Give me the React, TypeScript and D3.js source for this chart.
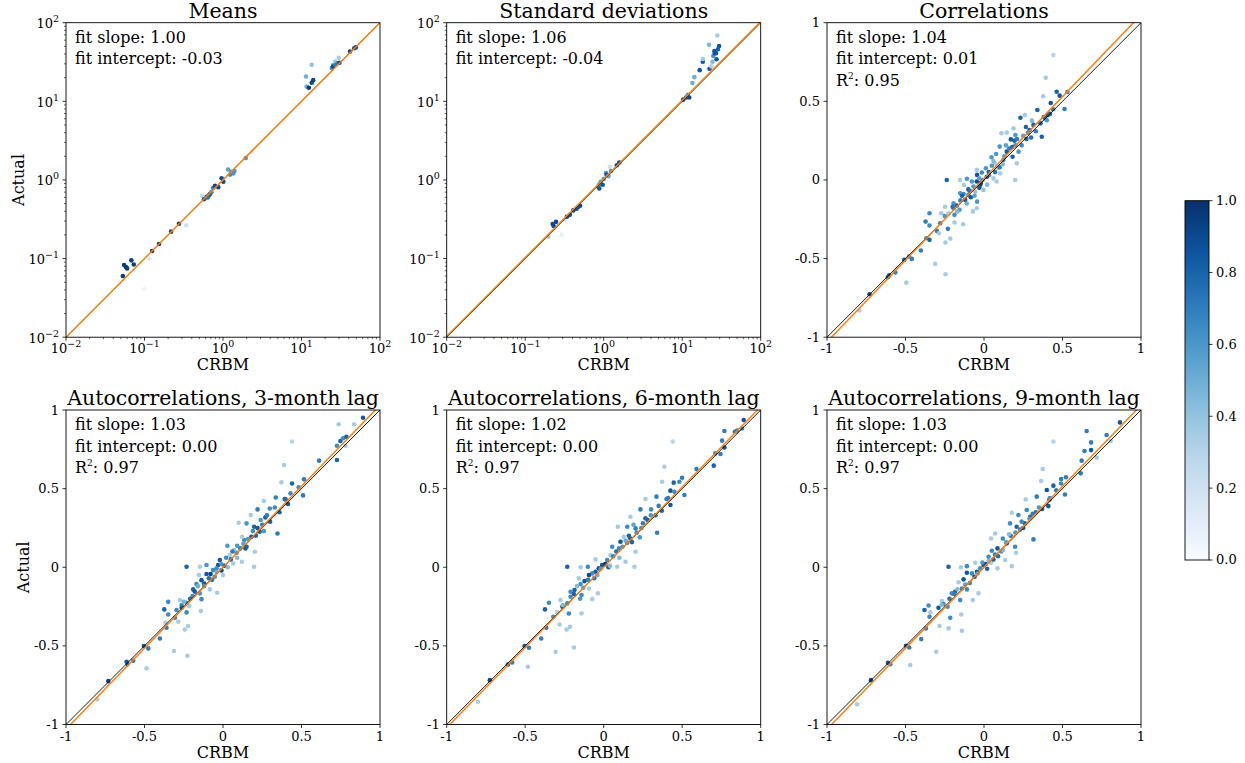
import React from 'react'
import * as d3 from 'd3'

// [CRBM, Actual, colour value]
const meansPoints: [number, number, number][] = [
  [0.053, 0.060, 0.95], [0.055, 0.083, 0.95], [0.058, 0.078, 0.95], [0.06, 0.075, 0.95],
  [0.068, 0.095, 0.95], [0.073, 0.084, 0.95], [0.115, 0.10, 0.15], [0.099, 0.041, 0.05],
  [0.125, 0.125, 0.95], [0.153, 0.153, 0.95], [0.218, 0.22, 0.95], [0.275, 0.277, 0.95],
  [0.34, 0.265, 0.2], [0.42, 0.46, 0.05], [0.54, 0.63, 0.25], [0.573, 0.567, 0.9],
  [0.62, 0.61, 0.9], [0.66, 0.64, 0.95], [0.71, 0.70, 0.65], [0.75, 0.79, 0.7],
  [0.79, 0.84, 0.9], [0.87, 0.81, 0.9], [0.96, 1.05, 0.9], [1.01, 0.95, 0.9],
  [0.68, 0.66, 0.8], [0.64, 0.6, 0.75], [1.16, 1.36, 0.55], [1.28, 1.27, 0.6],
  [1.35, 1.21, 0.6], [1.23, 1.17, 0.65], [1.4, 1.3, 0.6], [1.95, 1.9, 0.6],
  [2.31, 2.28, 0.15], [11.6, 15.4, 0.5], [11.4, 20.7, 0.5], [13.5, 29.2, 0.4],
  [12.4, 14.9, 0.95], [13.5, 17.2, 0.9], [14.1, 18.6, 0.9], [24.3, 26.5, 0.6],
  [25.2, 28.9, 0.45], [26.8, 32.1, 0.35], [28.6, 30.5, 0.65], [30.5, 31, 0.9],
  [29.8, 35.9, 0.35], [25.2, 27.7, 0.9], [27, 29, 0.7], [41.5, 43, 0.9],
  [47, 47.4, 0.9], [49.2, 48.5, 0.9],
]

const stdPoints: [number, number, number][] = [
  [0.197, 0.19, 0.35], [0.29, 0.2, 0.08], [0.224, 0.275, 0.9], [0.247, 0.293, 0.9],
  [0.23, 0.26, 0.9], [0.315, 0.31, 0.2], [0.34, 0.34, 0.9], [0.37, 0.36, 0.9],
  [0.41, 0.41, 0.9], [0.45, 0.43, 0.9], [0.50, 0.47, 0.9], [0.47, 0.45, 0.85],
  [0.85, 0.82, 0.65], [0.88, 0.88, 0.65], [0.92, 0.95, 0.6], [1.0, 1.03, 0.6],
  [1.07, 1.22, 0.6], [1.09, 1.16, 0.85], [1.2, 1.47, 0.2], [1.24, 1.3, 0.6],
  [1.47, 1.54, 0.9], [1.58, 1.67, 0.9], [0.97, 0.87, 0.85], [0.88, 0.78, 0.85],
  [1.15, 1.12, 0.55], [10.3, 10.5, 0.9], [11.2, 11.2, 0.9], [11.8, 12.1, 0.6],
  [12.3, 11.2, 0.9], [13.5, 17.1, 0.5], [14.3, 20.3, 0.5], [16.7, 24.9, 0.85],
  [18.3, 31.8, 0.85], [18.3, 34.5, 0.35], [22.3, 26, 0.85], [23.5, 28, 0.3],
  [24.3, 31.8, 0.45], [24.9, 37.7, 0.6], [26, 41, 0.85], [22, 52.5, 0.45],
  [28, 68.8, 0.35], [27.4, 34.3, 0.85], [26.9, 41, 0.85], [29.5, 50.4, 0.85],
  [25.7, 43.5, 0.85], [28.5, 46, 0.8],
]

const corrPoints: [number, number, number][] = [
  [0.442, 0.794, 0.3], [0.393, 0.65, 0.35], [0.377, 0.532, 0.35], [0.463, 0.561, 0.8],
  [0.482, 0.536, 0.85], [0.531, 0.559, 0.65], [0.513, 0.451, 0.7], [0.425, 0.489, 0.85],
  [0.34, 0.445, 0.8], [0.232, 0.396, 0.8], [0.26, 0.413, 0.35], [0.305, 0.377, 0.45],
  [0.406, 0.413, 0.85], [0.42, 0.42, 0.8], [0.389, 0.392, 0.85], [0.368, 0.275, 0.8],
  [0.111, 0.297, 0.35], [0.145, 0.301, 0.35], [0.2, 0.286, 0.6], [0.188, 0.328, 0.35],
  [0.267, 0.337, 0.8], [0.29, 0.318, 0.8], [0.315, 0.35, 0.8], [0.194, 0.25, 0.8],
  [0.171, 0.258, 0.85], [0.1, 0.212, 0.6], [0.048, 0.144, 0.6], [0.077, 0.165, 0.6],
  [0.199, 0, 0.35], [0.145, 0.18, 0.85], [0.182, 0.148, 0.8], [0.209, 0.106, 0.35],
  [0.086, 0.074, 0.35], [0.103, 0.042, 0.35], [0.081, -0.01, 0.35], [0.06, 0.01, 0.35],
  [0.033, 0.032, 0.6], [0.012, 0.074, 0.6], [-0.014, 0.047, 0.65], [-0.044, 0.032, 0.85],
  [-0.046, -0.01, 0.9], [-0.024, -0.032, 0.85], [-0.067, -0.042, 0.6], [-0.077, -0.01, 0.6],
  [-0.056, -0.074, 0.4], [-0.003, -0.064, 0.4], [-0.237, 0, 0.8], [-0.152, 0, 0.35],
  [-0.109, 0.008, 0.6], [-0.128, -0.032, 0.35], [-0.152, -0.085, 0.6], [-0.13, -0.089, 0.65],
  [-0.099, -0.095, 0.65], [-0.084, -0.11, 0.85], [-0.12, -0.127, 0.85], [-0.194, -0.148, 0.6],
  [-0.173, -0.163, 0.8], [-0.194, -0.18, 0.65], [-0.156, -0.19, 0.6], [-0.226, -0.212, 0.35],
  [-0.273, -0.212, 0.35], [-0.248, -0.17, 0.35], [-0.071, -0.2, 0.35], [-0.046, -0.18, 0.35],
  [-0.044, -0.138, 0.6], [-0.188, -0.222, 0.65], [-0.347, -0.212, 0.65], [-0.372, -0.265, 0.7],
  [-0.347, -0.29, 0.65], [-0.279, -0.275, 0.7], [-0.23, -0.311, 0.7], [-0.3, -0.324, 0.7],
  [-0.287, -0.339, 0.35], [-0.245, -0.398, 0.35], [-0.215, -0.373, 0.35], [-0.133, -0.282, 0.35],
  [-0.188, -0.271, 0.35], [-0.367, -0.371, 0.65], [-0.347, -0.381, 0.8], [-0.402, -0.449, 0.7],
  [-0.46, -0.502, 0.7], [-0.508, -0.508, 0.85], [-0.478, -0.487, 0.65], [-0.311, -0.534, 0.35],
  [-0.245, -0.6, 0.35], [-0.495, -0.653, 0.35], [-0.565, -0.589, 0.7], [-0.604, -0.606, 0.85],
  [-0.612, -0.619, 0.85], [-0.729, -0.727, 0.9], [-0.794, -0.83, 0.35], [0.07, 0.106, 0.35],
  [-0.046, 0.064, 0.35], [0.123, 0.127, 0.65], [0.018, 0.02, 0.9], [-0.02, -0.02, 0.95],
  [0.03, 0.05, 0.8], [0.16, 0.2, 0.7], [0.24, 0.22, 0.65], [0.27, 0.26, 0.8],
  [0.22, 0.18, 0.6], [-0.1, -0.06, 0.8], [-0.03, -0.05, 0.85], [0.05, 0.09, 0.6],
  [0.1, 0.08, 0.7], [-0.15, -0.13, 0.7], [0.33, 0.31, 0.7], [0.36, 0.36, 0.8],
  [0.4, 0.38, 0.6], [0.2, 0.22, 0.65], [0.18, 0.21, 0.8], [0.25, 0.28, 0.55],
  [0.13, 0.15, 0.6], [0.07, 0.05, 0.75], [-0.01, 0.0, 0.7], [-0.09, -0.07, 0.75],
  [-0.06, -0.1, 0.55], [-0.2, -0.17, 0.75], [-0.11, -0.15, 0.5], [-0.14, -0.1, 0.8],
  [0.02, -0.03, 0.45], [0.12, 0.1, 0.45], [0.28, 0.3, 0.65], [0.3, 0.27, 0.75],
  [0.38, 0.4, 0.75], [0.44, 0.45, 0.7], [-0.17, -0.2, 0.45], [-0.25, -0.23, 0.6],
  [0.21, 0.26, 0.7], [0.06, 0.12, 0.45], [-0.03, 0.01, 0.55], [0.14, 0.22, 0.55],
]

const lag3Points: [number, number, number][] = [
  [0.892, 0.951, 0.85], [0.835, 0.909, 0.35], [0.737, 0.909, 0.35], [0.748, 0.803, 0.8],
  [0.765, 0.82, 0.65], [0.786, 0.83, 0.8], [0.78, 0.773, 0.35], [0.726, 0.773, 0.65],
  [0.726, 0.682, 0.8], [0.612, 0.678, 0.7], [0.44, 0.799, 0.3], [0.389, 0.65, 0.35],
  [0.372, 0.54, 0.35], [0.44, 0.533, 0.8], [0.516, 0.559, 0.7], [0.482, 0.508, 0.65],
  [0.51, 0.457, 0.7], [0.336, 0.444, 0.7], [0.393, 0.434, 0.85], [0.414, 0.402, 0.85],
  [0.26, 0.421, 0.35], [0.22, 0.368, 0.7], [0.298, 0.374, 0.65], [0.27, 0.317, 0.8],
  [0.347, 0.215, 0.7], [0.177, 0.332, 0.35], [0.1, 0.283, 0.35], [0.15, 0.279, 0.6],
  [0.198, 0.258, 0.8], [0.234, 0.226, 0.8], [0.181, 0.194, 0.85], [0.135, 0.173, 0.65],
  [0.122, 0.194, 0.35], [0.203, 0.099, 0.35], [0.198, 0.003, 0.35], [0.143, 0.12, 0.85],
  [0.09, 0.137, 0.6], [0.028, 0.137, 0.6], [0.086, 0.092, 0.65], [0.12, 0.035, 0.35],
  [0.065, 0.024, 0.35], [0.043, 0.077, 0.35], [0.02, 0.06, 0.65], [-0.02, 0.046, 0.85],
  [-0.031, 0.014, 0.85], [-0.041, -0.007, 0.65], [-0.063, -0.018, 0.65], [-0.079, -0.043, 0.9],
  [-0.105, -0.043, 0.85], [-0.052, -0.06, 0.6], [0, -0.05, 0.35], [-0.147, 0.003, 0.35],
  [-0.105, 0.014, 0.6], [-0.232, 0.003, 0.8], [-0.154, -0.05, 0.35], [-0.137, -0.082, 0.85],
  [-0.12, -0.103, 0.85], [-0.169, -0.107, 0.65], [-0.19, -0.141, 0.8], [-0.18, -0.155, 0.85],
  [-0.147, -0.166, 0.6], [-0.084, -0.141, 0.35], [-0.037, -0.162, 0.35], [-0.137, -0.203, 0.65],
  [-0.194, -0.183, 0.65], [-0.275, -0.209, 0.35], [-0.232, -0.226, 0.65], [-0.263, -0.241, 0.65],
  [-0.263, -0.258, 0.85], [-0.215, -0.247, 0.35], [-0.349, -0.22, 0.65], [-0.374, -0.268, 0.8],
  [-0.349, -0.3, 0.65], [-0.296, -0.272, 0.65], [-0.232, -0.287, 0.65], [-0.141, -0.279, 0.35],
  [-0.306, -0.321, 0.65], [-0.285, -0.347, 0.35], [-0.366, -0.353, 0.35], [-0.222, -0.374, 0.35],
  [-0.243, -0.396, 0.35], [-0.36, -0.385, 0.7], [-0.402, -0.453, 0.7], [-0.504, -0.501, 0.85],
  [-0.476, -0.516, 0.7], [-0.313, -0.533, 0.35], [-0.226, -0.563, 0.35], [-0.487, -0.643, 0.35],
  [-0.572, -0.595, 0.7], [-0.608, -0.616, 0.85], [-0.614, -0.601, 0.85], [-0.731, -0.724, 0.9],
  [-0.801, -0.84, 0.35], [0.01, 0.01, 0.95], [-0.01, -0.02, 0.9], [0.05, 0.05, 0.8],
  [0.11, 0.12, 0.7], [0.16, 0.18, 0.6], [0.25, 0.27, 0.7], [0.3, 0.29, 0.8],
  [-0.07, -0.08, 0.75], [0.07, 0.11, 0.4], [0.21, 0.2, 0.75], [0.36, 0.35, 0.8],
  [0.19, 0.23, 0.65], [0.24, 0.3, 0.6], [0.13, 0.15, 0.55], [-0.01, 0.02, 0.6],
  [-0.09, -0.07, 0.75], [-0.12, -0.12, 0.6], [-0.21, -0.2, 0.75], [0.03, 0.0, 0.45],
  [0.09, 0.06, 0.45], [0.28, 0.33, 0.7], [0.33, 0.38, 0.65], [0.4, 0.43, 0.75],
  [-0.16, -0.12, 0.5], [0.06, 0.1, 0.7], [0.15, 0.13, 0.8], [0.22, 0.25, 0.85],
  [-0.04, -0.03, 0.5], [-0.25, -0.22, 0.45], [0.26, 0.23, 0.6], [0.43, 0.47, 0.65],
]

const lag6Points: [number, number, number][] = [
  [0.892, 0.936, 0.85], [0.835, 0.862, 0.7], [0.769, 0.866, 0.7], [0.881, 0.883, 0.65],
  [0.85, 0.87, 0.7], [0.754, 0.805, 0.7], [0.769, 0.762, 0.85], [0.744, 0.72, 0.7],
  [0.711, 0.724, 0.7], [0.701, 0.646, 0.8], [0.591, 0.625, 0.7], [0.44, 0.799, 0.3],
  [0.387, 0.639, 0.35], [0.372, 0.544, 0.35], [0.446, 0.538, 0.8], [0.499, 0.569, 0.7],
  [0.482, 0.544, 0.65], [0.514, 0.459, 0.7], [0.425, 0.487, 0.85], [0.336, 0.449, 0.7],
  [0.4, 0.434, 0.7], [0.425, 0.396, 0.85], [0.266, 0.434, 0.35], [0.302, 0.368, 0.65],
  [0.234, 0.368, 0.7], [0.34, 0.219, 0.7], [0.266, 0.311, 0.8], [0.17, 0.321, 0.35],
  [0.09, 0.258, 0.35], [0.15, 0.258, 0.65], [0.203, 0.247, 0.7], [0.203, 0.099, 0.35],
  [0.196, 0.003, 0.35], [0.128, 0.194, 0.35], [0.17, 0.183, 0.85], [0.15, 0.156, 0.7],
  [0.107, 0.162, 0.85], [0.054, 0.13, 0.65], [0.097, 0.12, 0.65], [0.043, 0.077, 0.35],
  [0.139, 0.035, 0.35], [0.086, 0.003, 0.35], [0.022, 0.046, 0.65], [-0.01, 0.014, 0.85],
  [-0.031, -0.007, 0.9], [-0.052, -0.029, 0.85], [-0.073, -0.039, 0.65], [-0.094, -0.05, 0.9],
  [-0.052, 0.05, 0.35], [-0.147, 0, 0.35], [-0.101, 0.003, 0.65], [-0.232, 0.003, 0.8],
  [-0.158, -0.071, 0.35], [-0.122, -0.088, 0.85], [-0.147, -0.107, 0.65], [-0.186, -0.145, 0.8],
  [-0.211, -0.156, 0.65], [-0.141, -0.177, 0.65], [-0.094, -0.135, 0.35], [-0.037, -0.166, 0.35],
  [-0.073, -0.203, 0.35], [-0.15, -0.2, 0.6], [-0.211, -0.188, 0.65], [-0.275, -0.209, 0.35],
  [-0.232, -0.23, 0.65], [-0.263, -0.251, 0.85], [-0.349, -0.226, 0.65], [-0.374, -0.268, 0.8],
  [-0.321, -0.315, 0.65], [-0.296, -0.287, 0.35], [-0.222, -0.294, 0.65], [-0.141, -0.294, 0.35],
  [-0.281, -0.364, 0.35], [-0.215, -0.379, 0.35], [-0.236, -0.396, 0.35], [-0.366, -0.385, 0.7],
  [-0.398, -0.453, 0.7], [-0.504, -0.501, 0.85], [-0.476, -0.512, 0.7], [-0.19, -0.51, 0.35],
  [-0.306, -0.538, 0.35], [-0.483, -0.633, 0.35], [-0.583, -0.605, 0.7], [-0.61, -0.618, 0.85],
  [-0.725, -0.718, 0.9], [-0.801, -0.855, 0.35], [0.01, 0.02, 0.95], [0.03, 0.0, 0.8],
  [0.06, 0.07, 0.7], [0.12, 0.13, 0.6], [0.24, 0.25, 0.65], [0.28, 0.3, 0.8],
  [-0.06, -0.07, 0.75], [0.18, 0.16, 0.8], [0.33, 0.33, 0.75], [0.37, 0.36, 0.8],
  [0.21, 0.22, 0.65], [0.19, 0.27, 0.55], [0.25, 0.28, 0.7], [0.14, 0.17, 0.5],
  [0.08, 0.1, 0.75], [-0.02, -0.01, 0.6], [-0.1, -0.08, 0.7], [-0.13, -0.13, 0.55],
  [-0.19, -0.17, 0.8], [0.04, 0.01, 0.45], [0.3, 0.33, 0.6], [0.41, 0.44, 0.7],
  [-0.17, -0.12, 0.45], [0.1, 0.06, 0.45], [0.16, 0.2, 0.8], [0.23, 0.19, 0.6],
  [-0.04, -0.05, 0.5], [-0.26, -0.24, 0.45], [0.35, 0.39, 0.7], [0.45, 0.48, 0.65],
]

const lag9Points: [number, number, number][] = [
  [0.866, 0.921, 0.85], [0.654, 0.866, 0.7], [0.781, 0.841, 0.7], [0.682, 0.794, 0.7],
  [0.64, 0.739, 0.7], [0.682, 0.745, 0.85], [0.718, 0.697, 0.35], [0.807, 0.803, 0.35],
  [0.622, 0.678, 0.7], [0.616, 0.597, 0.7], [0.442, 0.799, 0.3], [0.374, 0.625, 0.35],
  [0.364, 0.548, 0.35], [0.442, 0.519, 0.8], [0.491, 0.561, 0.7], [0.522, 0.572, 0.7],
  [0.491, 0.533, 0.65], [0.516, 0.463, 0.7], [0.4, 0.491, 0.85], [0.336, 0.449, 0.7],
  [0.417, 0.431, 0.85], [0.41, 0.389, 0.85], [0.266, 0.431, 0.35], [0.177, 0.347, 0.35],
  [0.219, 0.332, 0.65], [0.272, 0.364, 0.65], [0.294, 0.321, 0.8], [0.315, 0.177, 0.7],
  [0.166, 0.279, 0.65], [0.208, 0.258, 0.8], [0.071, 0.215, 0.35], [0.045, 0.183, 0.35],
  [0.12, 0.183, 0.65], [0.145, 0.152, 0.85], [0.198, 0.13, 0.65], [0.204, 0.092, 0.35],
  [0.177, 0.007, 0.35], [0.135, 0.046, 0.35], [0.086, 0.12, 0.85], [0.05, 0.105, 0.65],
  [0.029, 0.067, 0.65], [0.086, -0.007, 0.35], [0.045, 0.029, 0.35], [-0.003, 0.014, 0.85],
  [-0.024, -0.007, 0.65], [-0.045, -0.029, 0.85], [-0.077, -0.039, 0.65], [-0.109, -0.035, 0.85],
  [-0.13, -0.077, 0.85], [-0.056, 0.029, 0.35], [-0.147, -0.001, 0.35], [-0.109, 0.007, 0.65],
  [-0.226, 0.003, 0.8], [-0.162, -0.096, 0.35], [-0.141, -0.135, 0.65], [-0.184, -0.156, 0.8],
  [-0.205, -0.166, 0.65], [-0.109, -0.141, 0.65], [-0.071, -0.209, 0.35], [-0.035, -0.166, 0.35],
  [-0.152, -0.209, 0.65], [-0.268, -0.215, 0.35], [-0.258, -0.234, 0.65], [-0.232, -0.251, 0.65],
  [-0.353, -0.243, 0.65], [-0.379, -0.272, 0.8], [-0.342, -0.287, 0.35], [-0.29, -0.258, 0.85],
  [-0.347, -0.315, 0.65], [-0.215, -0.321, 0.65], [-0.145, -0.3, 0.35], [-0.283, -0.374, 0.35],
  [-0.226, -0.389, 0.35], [-0.141, -0.404, 0.35], [-0.37, -0.389, 0.7], [-0.4, -0.457, 0.7],
  [-0.497, -0.499, 0.85], [-0.476, -0.51, 0.7], [-0.304, -0.538, 0.35], [-0.47, -0.622, 0.35],
  [-0.612, -0.608, 0.85], [-0.597, -0.617, 0.7], [-0.72, -0.718, 0.9], [-0.809, -0.871, 0.35],
  [0.01, 0.02, 0.9], [0.02, -0.01, 0.8], [0.07, 0.08, 0.7], [0.11, 0.1, 0.6],
  [0.23, 0.24, 0.7], [0.26, 0.28, 0.8], [-0.06, -0.06, 0.9], [0.17, 0.2, 0.75],
  [0.33, 0.35, 0.75], [0.37, 0.37, 0.8], [-0.19, -0.17, 0.7], [0.2, 0.22, 0.6],
  [0.24, 0.29, 0.65], [0.14, 0.16, 0.55], [0.09, 0.07, 0.75], [-0.01, 0.03, 0.6],
  [-0.09, -0.1, 0.7], [-0.12, -0.11, 0.55], [-0.17, -0.14, 0.45], [0.03, 0.04, 0.45],
  [0.29, 0.31, 0.6], [0.31, 0.34, 0.7], [0.42, 0.44, 0.65], [0.16, 0.21, 0.45],
  [0.06, 0.05, 0.8], [-0.04, -0.04, 0.55], [-0.22, -0.2, 0.75], [0.25, 0.25, 0.85],
  [0.12, 0.11, 0.45], [0.35, 0.38, 0.6], [0.46, 0.49, 0.7], [-0.27, -0.24, 0.45],
]

const logTicks = [0.01, 0.1, 1, 10, 100]
const linTicks = [-1, -0.5, 0, 0.5, 1]
const colorTicks = [0, 0.2, 0.4, 0.6, 0.8, 1.0]

const W = 314
const H = 314.5
const FONT = 'DejaVu Serif'
const color = d3.scaleSequential(d3.interpolateBlues).domain([0, 1])

type PanelProps = {
  id: string
  x0: number
  y0: number
  title: string
  points: [number, number, number][]
  log: boolean
  slope: number
  intercept: number
  fitEnds?: [number, number][]
  notes: string[]
  r2?: string
  yLabelX?: number
}

function Panel({ id, x0, y0, title, points, log, slope, intercept, fitEnds, notes, r2, yLabelX }: PanelProps) {
  const x = log ? d3.scaleLog().domain([0.01, 100]).range([0, W]) : d3.scaleLinear().domain([-1, 1]).range([0, W])
  const y = log ? d3.scaleLog().domain([0.01, 100]).range([H, 0]) : d3.scaleLinear().domain([-1, 1]).range([H, 0])
  const line = d3.line<[number, number]>().x(d => x(d[0])).y(d => y(d[1]))
  const diag: [number, number][] = log ? [[0.01, 0.01], [100, 100]] : [[-1, -1], [1, 1]]
  const fit: [number, number][] = fitEnds ?? [[-1.2, slope * -1.2 + intercept], [1.2, slope * 1.2 + intercept]]
  const minor = log ? (x as d3.ScaleLogarithmic<number, number>).ticks().filter(t => Math.abs(Math.log10(t) - Math.round(Math.log10(t))) > 1e-6) : []
  const ticks = log ? logTicks : linTicks
  const expOf = (t: number) => Math.round(Math.log10(t))
  const tickLabel = (t: number, anchor: string, tx: number, ty: number) =>
    log ? (
      <text x={tx} y={ty} textAnchor={anchor} fontSize={13} fontFamily={FONT}>
        10<tspan dy={-6} fontSize={9.5}>{expOf(t) < 0 ? '\u2212' + Math.abs(expOf(t)) : String(expOf(t))}</tspan>
      </text>
    ) : (
      <text x={tx} y={ty} textAnchor={anchor} fontSize={13} fontFamily={FONT}>{String(t)}</text>
    )
  return (
    <g transform={`translate(${x0},${y0})`}>
      <defs>
        <clipPath id={id}><rect x={0} y={0} width={W} height={H} /></clipPath>
      </defs>
      <g clipPath={`url(#${id})`}>
        {points.map((p, i) => (
          <circle key={i} cx={x(p[0])} cy={y(p[1])} r={2.3} fill={color(p[2])} />
        ))}
        <path d={line(diag) ?? ''} stroke="#000" strokeWidth={0.9} fill="none" />
        <path d={line(fit) ?? ''} stroke="#ff7f0e" strokeWidth={1.5} fill="none" />
      </g>
      <rect x={0} y={0} width={W} height={H} fill="none" stroke="#000" strokeWidth={0.9} />
      {/* minor ticks on the log axes */}
      {minor.map((t, i) => (
        <g key={'m' + i} stroke="#000" strokeWidth={0.6}>
          <line x1={x(t)} x2={x(t)} y1={H} y2={H + 2} />
          <line x1={0} x2={-2} y1={y(t)} y2={y(t)} />
        </g>
      ))}
      {ticks.map((t, i) => (
        <g key={'t' + i}>
          <line x1={x(t)} x2={x(t)} y1={H} y2={H + 3.5} stroke="#000" strokeWidth={0.8} />
          <line x1={0} x2={-3.5} y1={y(t)} y2={y(t)} stroke="#000" strokeWidth={0.8} />
          {tickLabel(t, 'middle', x(t), H + (log ? 15.5 : 16))}
          {tickLabel(t, 'end', -7, y(t) + (log ? 5.5 : 4.5))}
        </g>
      ))}
      <text x={W / 2} y={-5} textAnchor="middle" fontSize={20.5} fontFamily={FONT}>{title}</text>
      <text x={W / 2} y={H + 33} textAnchor="middle" fontSize={16} fontFamily={FONT}>CRBM</text>
      {yLabelX !== undefined && (
        <text transform={`translate(${yLabelX - x0},${H / 2}) rotate(-90)`} textAnchor="middle" fontSize={16} fontFamily={FONT}>Actual</text>
      )}
      {notes.map((n, i) => (
        <text key={'n' + i} x={9} y={20 + i * 21.7} fontSize={16} fontFamily={FONT}>{n}</text>
      ))}
      {r2 && (
        <text x={9} y={20 + notes.length * 21.7} fontSize={16} fontFamily={FONT}>
          R<tspan dy={-7} fontSize={9}>2</tspan><tspan dy={7}>: {r2}</tspan>
        </text>
      )}
    </g>
  )
}

function ColorBar() {
  const x0 = 1185
  const y0 = 200.7
  const h = 359.3
  const w = 24
  const s = d3.scaleLinear().domain([0, 1]).range([h, 0])
  const stops = d3.range(0, 1.0001, 0.05)
  return (
    <g transform={`translate(${x0},${y0})`}>
      <defs>
        <linearGradient id="cbar" x1="0" y1="1" x2="0" y2="0">
          {stops.map((t, i) => <stop key={i} offset={`${t * 100}%`} stopColor={color(t)} />)}
        </linearGradient>
      </defs>
      <rect x={0} y={0} width={w} height={h} fill="url(#cbar)" stroke="#000" strokeWidth={0.9} />
      {colorTicks.map((t, i) => (
        <g key={i}>
          <line x1={w} x2={w + 3.5} y1={s(t)} y2={s(t)} stroke="#000" strokeWidth={0.8} />
          <text x={w + 7} y={s(t) + 4.5} fontSize={13} fontFamily={FONT}>{t.toFixed(1)}</text>
        </g>
      ))}
    </g>
  )
}

export default function App() {
  const cols = [66, 446.7, 827]
  const rows = [22.7, 410]
  return (
    <svg width={1245} height={763} style={{ position: 'absolute', left: 0, top: 0, background: '#fff' }}>
      <Panel id="c1" x0={cols[0]} y0={rows[0]} title="Means" points={meansPoints} log slope={1.0} intercept={-0.03}
        fitEnds={[[0.01, 0.01], [100, 100]]} notes={['fit slope: 1.00', 'fit intercept: -0.03']} yLabelX={24} />
      <Panel id="c2" x0={cols[1]} y0={rows[0]} title="Standard deviations" points={stdPoints} log slope={1.06} intercept={-0.04}
        fitEnds={[[0.01, 0.0103], [100, 103]]} notes={['fit slope: 1.06', 'fit intercept: -0.04']} />
      <Panel id="c3" x0={cols[2]} y0={rows[0]} title="Correlations" points={corrPoints} log={false} slope={1.04} intercept={0.01}
        notes={['fit slope: 1.04', 'fit intercept: 0.01']} r2="0.95" />
      <Panel id="c4" x0={cols[0]} y0={rows[1]} title="Autocorrelations, 3-month lag" points={lag3Points} log={false} slope={1.03} intercept={0.0}
        notes={['fit slope: 1.03', 'fit intercept: 0.00']} r2="0.97" yLabelX={29} />
      <Panel id="c5" x0={cols[1]} y0={rows[1]} title="Autocorrelations, 6-month lag" points={lag6Points} log={false} slope={1.02} intercept={0.0}
        notes={['fit slope: 1.02', 'fit intercept: 0.00']} r2="0.97" />
      <Panel id="c6" x0={cols[2]} y0={rows[1]} title="Autocorrelations, 9-month lag" points={lag9Points} log={false} slope={1.03} intercept={0.0}
        notes={['fit slope: 1.03', 'fit intercept: 0.00']} r2="0.97" />
      <ColorBar />
    </svg>
  )
}
